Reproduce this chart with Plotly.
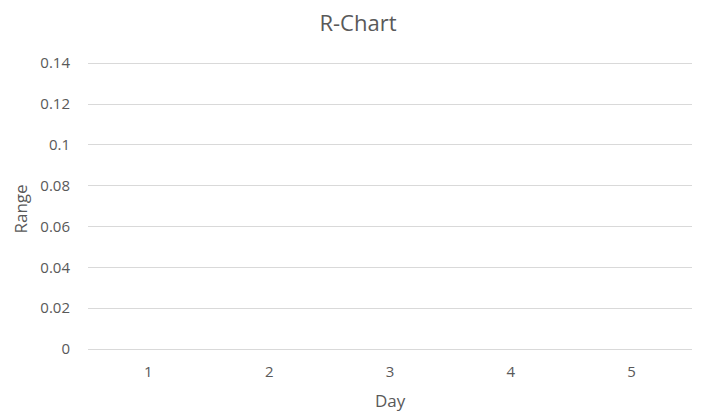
import plotly.graph_objects as go

# days on the category axis; the reference shows no plotted ranges
days = ["1", "2", "3", "4", "5"]
ranges = [None, None, None, None, None]

y_ticks = [0, 0.02, 0.04, 0.06, 0.08, 0.1, 0.12, 0.14]
y_labels = ["0", "0.02", "0.04", "0.06", "0.08", "0.1", "0.12", "0.14"]

grey = "#595959"
font = "Open Sans"

fig = go.Figure()
fig.add_trace(go.Scatter(
    x=days, y=ranges,
    mode="lines+markers",
    line=dict(color="#4472c4", width=2),
    showlegend=False,
    hoverinfo="skip"
))

# page body has an 8px margin, so the figure is a bit smaller than the window
fig.update_layout(
    width=700, height=405,
    paper_bgcolor="white",
    plot_bgcolor="white",
    margin=dict(l=80, r=16, t=54, b=64),
    title=dict(
        text="R-Chart",
        x=0.5, xanchor="center",
        yref="container", y=1 - 15 / 405, yanchor="middle",
        font=dict(family=font, size=22, color=grey)
    ),
    font=dict(family=font, size=15, color=grey),
    xaxis=dict(
        type="category",
        range=[-0.5, 4.5],
        automargin=False,
        showgrid=False,
        showline=False,
        zeroline=False,
        ticks="",
        ticklabelstandoff=12,
        tickfont=dict(family=font, size=15, color=grey),
    ),
    yaxis=dict(
        range=[0, 0.1406],
        automargin=False,
        tickvals=y_ticks,
        ticktext=y_labels,
        showgrid=True,
        gridcolor="#d9d9d9",
        gridwidth=1,
        zeroline=True,
        zerolinecolor="#d9d9d9",
        zerolinewidth=1,
        showline=False,
        ticks="",
        ticklabelstandoff=17,
        tickfont=dict(family=font, size=15, color=grey),
    ),
    annotations=[
        dict(text="Day", xref="paper", yref="paper", x=0.5, y=-51 / 287,
             xanchor="center", yanchor="middle", showarrow=False,
             font=dict(family=font, size=17, color=grey)),
        dict(text="Range", xref="paper", yref="paper", x=-68 / 604,
             y=0.5 - 4 / 287, xanchor="center", yanchor="middle",
             textangle=-90, showarrow=False,
             font=dict(family=font, size=17, color=grey)),
    ]
)

fig.write_html("out.html")
